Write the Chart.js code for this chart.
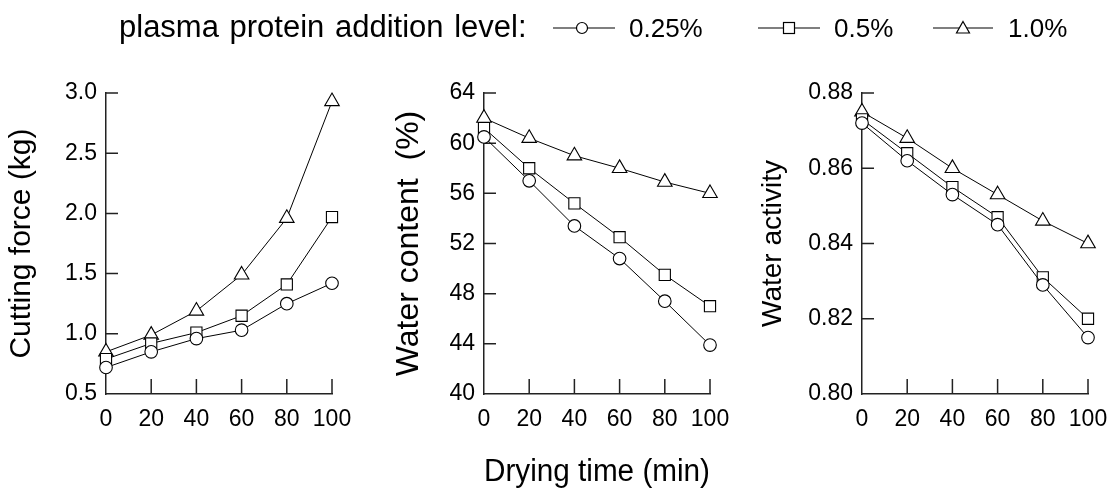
<!DOCTYPE html>
<html><head><meta charset="utf-8">
<script src="https://cdn.jsdelivr.net/npm/chart.js@4.4.1/dist/chart.umd.min.js"></script>
<style>
html,body{margin:0;padding:0;background:#fff;}
#wrap{position:relative;width:1110px;height:493px;overflow:hidden;font-family:"Liberation Sans",Arial,sans-serif;background:#fff;}
.panel{position:absolute;top:0;width:378px;height:493px;}
.lg{position:absolute;font-size:26px;color:#000;line-height:1;white-space:nowrap;}
#lgTitle{font-size:31px;word-spacing:2px;}
#lgsvg{position:absolute;left:0;top:0;}
</style></head><body>
<div id="wrap">
  <div class="panel" style="left:0px"><canvas id="c0" width="378" height="493"></canvas></div>
  <div class="panel" style="left:378px"><canvas id="c1" width="378" height="493"></canvas></div>
  <div class="panel" style="left:756px"><canvas id="c2" width="378" height="493"></canvas></div>
  <div class="lg" id="lgTitle" style="left:119px;top:11px;">plasma protein addition level:</div>
  <div class="lg" id="lg0" style="left:629px;top:15px;"></div>
  <div class="lg" id="lg1" style="left:834px;top:15px;"></div>
  <div class="lg" id="lg2" style="left:1008px;top:15px;"></div>
  <svg id="lgsvg" width="1110" height="60">
    <g stroke="#000" stroke-width="1.2" fill="#fff">
      <line x1="553" y1="28" x2="615" y2="28"/>
      <circle cx="582" cy="28" r="5.5"/>
      <line x1="758" y1="28" x2="820" y2="28"/>
      <rect x="783.5" y="22.5" width="11" height="11"/>
      <line x1="933" y1="28" x2="993" y2="28"/>
      <polygon points="963,21.5 969.5,33 956.5,33"/>
    </g>
  </svg>
</div>
<script>
// ---- data ----
const dryingTime = [0, 20, 40, 60, 80, 100];
const levelLabels = ['0.25%', '0.5%', '1.0%'];
const xTitle = 'Drying time (min)';
const yTitles = ['Cutting force (kg)', 'Water content  (%)', 'Water activity'];

const cutting025 = [0.72, 0.85, 0.96, 1.03, 1.25, 1.42];
const cutting05  = [0.79, 0.92, 1.01, 1.15, 1.41, 1.97];
const cutting10  = [0.85, 0.99, 1.19, 1.49, 1.96, 2.93];

const water025 = [60.5, 57.0, 53.4, 50.8, 47.4, 43.9];
const water05  = [61.2, 58.0, 55.2, 52.5, 49.5, 47.0];
const water10  = [62.0, 60.4, 59.0, 58.0, 56.9, 56.0];

const aw025 = [0.872, 0.862, 0.853, 0.845, 0.829, 0.815];
const aw05  = [0.873, 0.864, 0.855, 0.847, 0.831, 0.820];
const aw10  = [0.875, 0.868, 0.860, 0.853, 0.846, 0.840];

const yTicks1 = [0.5, 1.0, 1.5, 2.0, 2.5, 3.0];
const yTicks2 = [40, 44, 48, 52, 56, 60, 64];
const yTicks3 = [0.80, 0.82, 0.84, 0.86, 0.88];

// legend text
levelLabels.forEach((t, i) => { document.getElementById('lg' + i).textContent = t; });

Chart.defaults.font.family = "'Liberation Sans', Arial, sans-serif";
Chart.defaults.color = '#000';

const AXIS = '#222';

const inTicks = {
  id: 'inTicks',
  beforeDatasetsDraw(chart) {
    const { ctx, chartArea: a, scales: { x, y } } = chart;
    ctx.save();
    ctx.strokeStyle = AXIS;
    ctx.lineWidth = 1.5;
    ctx.beginPath();
    y.ticks.forEach(t => {
      const py = y.getPixelForValue(t.value);
      if (Math.abs(py - a.bottom) < 1) return;
      ctx.moveTo(a.left, py); ctx.lineTo(a.left + 12, py);
    });
    x.ticks.forEach(t => {
      const px = x.getPixelForValue(t.value);
      if (Math.abs(px - a.left) < 1) return;
      ctx.moveTo(px, a.bottom); ctx.lineTo(px, a.bottom - 15);
    });
    ctx.stroke();
    ctx.restore();
  }
};

function ds(values, style, radius) {
  return {
    data: dryingTime.map((t, i) => ({ x: t, y: values[i] })),
    borderColor: '#000',
    borderWidth: 1,
    pointStyle: style,
    pointRadius: radius,
    pointHoverRadius: radius,
    pointBackgroundColor: '#fff',
    pointBorderColor: '#000',
    pointBorderWidth: 1.1,
    clip: false,
    tension: 0
  };
}

function makeChart(id, series, yTickVals, decimals, yTitle, yTitleSize, yTitlePad, showX) {
  const yMin = yTickVals[0], yMax = yTickVals[yTickVals.length - 1];
  const yStep = yTickVals[1] - yTickVals[0];
  return new Chart(document.getElementById(id), {
    type: 'line',
    data: {
      datasets: [
        ds(series[0], 'circle', 6.3),
        ds(series[1], 'rect', 7.9),
        ds(series[2], 'triangle', 8.4)
      ]
    },
    options: {
      responsive: false,
      animation: false,
      devicePixelRatio: 1,
      layout: { padding: { left: 0, top: 93, right: 46, bottom: 0 } },
      plugins: { legend: { display: false }, tooltip: { enabled: false } },
      scales: {
        x: {
          type: 'linear',
          min: dryingTime[0],
          max: dryingTime[dryingTime.length - 1],
          grid: { display: false, drawTicks: false },
          border: { display: true, color: AXIS, width: 1.5 },
          ticks: {
            stepSize: dryingTime[1] - dryingTime[0],
            font: { size: 23 },
            color: '#000',
            padding: 12,
            maxRotation: 0,
            autoSkip: false
          },
          title: {
            display: showX,
            text: xTitle,
            font: { size: 31 },
            color: '#000',
            padding: { top: 0, bottom: 2 }
          },
          afterFit(s) { s.height = 99; }
        },
        y: {
          type: 'linear',
          min: yMin,
          max: yMax,
          grid: { display: false, drawTicks: false },
          border: { display: true, color: AXIS, width: 1.5 },
          afterBuildTicks(s) { s.ticks = yTickVals.map(v => ({ value: v })); },
          ticks: {
            stepSize: yStep,
            font: { size: 23 },
            color: '#000',
            padding: 9,
            callback: v => Number(v).toFixed(decimals)
          },
          title: {
            display: true,
            text: yTitle,
            font: { size: yTitleSize },
            color: '#000',
            padding: { top: yTitlePad, bottom: 0 }
          },
          afterFit(s) { s.width = 106; }
        }
      }
    },
    plugins: [inTicks]
  });
}

makeChart('c0', [cutting025, cutting05, cutting10], yTicks1, 1, yTitles[0], 30, 4, false);
makeChart('c1', [water025, water05, water10], yTicks2, 0, yTitles[1], 32, 12, true);
makeChart('c2', [aw025, aw05, aw10], yTicks3, 2, yTitles[2], 28, 0, false);
</script>
</body></html>
